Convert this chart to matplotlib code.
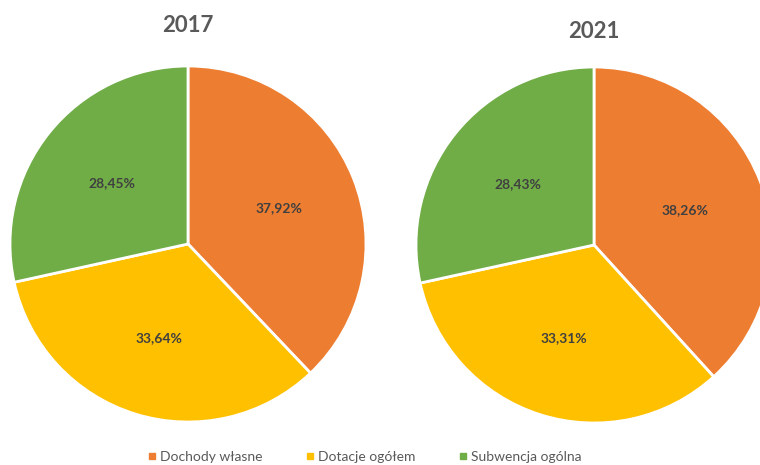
import matplotlib

matplotlib.use("Agg")
import matplotlib.pyplot as plt
from matplotlib.lines import Line2D

CATEGORIES = ["Dochody własne", "Dotacje ogółem", "Subwencja ogólna"]
COLORS = ["#ED7D31", "#FFC000", "#70AD47"]
YEARS = ["2017", "2021"]
SHARES_2017 = [37.92, 33.64, 28.45]
SHARES_2021 = [38.26, 33.31, 28.43]

plt.rcParams["font.family"] = ["Lato", "DejaVu Sans"]

W, H = 760, 465
fig = plt.figure(figsize=(W / 100, H / 100), dpi=100)


def draw_pie(cx, cy, r, shares, year, title_y):
    ax = fig.add_axes([(cx - r) / W, (H - cy - r) / H, 2 * r / W, 2 * r / H])
    vals = iter(shares)
    wedges, _, autotexts = ax.pie(
        shares,
        colors=COLORS,
        startangle=90,
        counterclock=False,
        radius=1,
        pctdistance=0.55,
        autopct=lambda p: f"{next(vals):.2f}".replace(".", ",") + "%",
        wedgeprops=dict(edgecolor="white", linewidth=2),
    )
    for t in autotexts:
        t.set_fontsize(10)
        t.set_fontweight("bold")
        t.set_color("#404040")
    ax.set_xlim(-1, 1)
    ax.set_ylim(-1, 1)
    ax.set_aspect("equal")
    ax.axis("off")
    fig.text(cx / W, 1 - title_y / H, year, ha="center", va="center",
             fontsize=16, fontweight="bold", color="#595959")


draw_pie(188, 244, 178, SHARES_2017, YEARS[0], 25)
draw_pie(594, 245, 178, SHARES_2021, YEARS[1], 31)

handles = [
    Line2D([], [], marker="s", linestyle="none", markersize=5,
           markerfacecolor=c, markeredgecolor=c)
    for c in COLORS
]
fig.legend(handles, CATEGORIES, loc="center", bbox_to_anchor=(364 / W, 1 - 457 / H),
           ncol=3, frameon=False, fontsize=10, labelcolor="#595959",
           handletextpad=0.2, columnspacing=3.0, handlelength=0.8)

fig.savefig("out.png", dpi=100)
